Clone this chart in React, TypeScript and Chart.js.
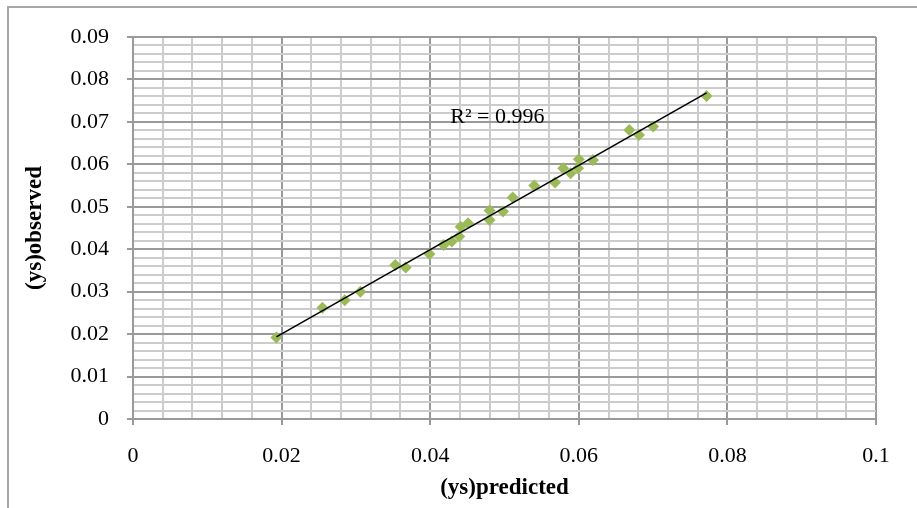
import React, { useEffect, useRef } from 'react';
import { Chart, registerables } from 'chart.js';

Chart.register(...registerables);

// ---- data ----
const predicted = [
  0.0193, 0.0255, 0.0285, 0.0306, 0.0353, 0.0367, 0.0399, 0.0418, 0.0429,
  0.0439, 0.0441, 0.0451, 0.048, 0.048, 0.0498, 0.0511, 0.054, 0.0568,
  0.0579, 0.0589, 0.0599, 0.06, 0.0619, 0.0668, 0.0681, 0.07, 0.0772,
];
const observed = [
  0.0192, 0.0262, 0.028, 0.03, 0.0363, 0.0357, 0.0389, 0.041, 0.0418,
  0.043, 0.0453, 0.0461, 0.0469, 0.0491, 0.0489, 0.0522, 0.055, 0.0557,
  0.0591, 0.0579, 0.0591, 0.0612, 0.061, 0.0681, 0.0669, 0.0689, 0.0761,
];
const xTickLabels = ['0', '0.02', '0.04', '0.06', '0.08', '0.1'];
const yTickLabels = ['0', '0.01', '0.02', '0.03', '0.04', '0.05', '0.06', '0.07', '0.08', '0.09'];
const xTitle = '(ys)predicted';
const yTitle = '(ys)observed';
const rSquaredText = 'R\u00B2 = 0.996';
const rSquaredAnchor = { x: 0.0427, y: 0.0712 };

const X_MAX = 0.1;
const Y_MAX = 0.09;
const X_STEP = 0.004;
const Y_STEP = 0.002;
const MAJOR_EVERY = 5;

const FONT = "'Liberation Serif', 'Times New Roman', serif";
const MAJOR_GRID = '#9a9a9a';
const MINOR_GRID = '#cccccc';
const MARKER = '#9bbb59';

function linearFit(xs: number[], ys: number[]) {
  const n = xs.length;
  const mx = xs.reduce((a, b) => a + b, 0) / n;
  const my = ys.reduce((a, b) => a + b, 0) / n;
  let sxy = 0;
  let sxx = 0;
  for (let i = 0; i < n; i++) {
    sxy += (xs[i] - mx) * (ys[i] - my);
    sxx += (xs[i] - mx) * (xs[i] - mx);
  }
  const slope = sxy / sxx;
  return { slope, intercept: my - slope * mx };
}

const rLabelPlugin = {
  id: 'rLabel',
  afterDatasetsDraw(chart: any) {
    const { ctx, scales } = chart;
    const px = scales.x.getPixelForValue(rSquaredAnchor.x);
    const py = scales.y.getPixelForValue(rSquaredAnchor.y);
    ctx.save();
    ctx.font = `22px ${FONT}`;
    ctx.fillStyle = '#000';
    ctx.textAlign = 'left';
    ctx.textBaseline = 'middle';
    ctx.fillText(rSquaredText, px, py);
    ctx.restore();
  },
};

export default function App() {
  const canvasRef = useRef<HTMLCanvasElement | null>(null);

  useEffect(() => {
    if (!canvasRef.current) return;
    const points = predicted.map((x, i) => ({ x, y: observed[i] }));
    const { slope, intercept } = linearFit(predicted, observed);
    const minX = Math.min(...predicted);
    const maxX = Math.max(...predicted);
    const trend = [
      { x: minX, y: intercept + slope * minX },
      { x: maxX, y: intercept + slope * maxX },
    ];

    const gridColor = (c: any) => (c.index % MAJOR_EVERY === 0 ? MAJOR_GRID : MINOR_GRID);
    const tickColor = (c: any) => (c.index % MAJOR_EVERY === 0 ? MAJOR_GRID : 'rgba(0,0,0,0)');

    const chart = new Chart(canvasRef.current, {
      type: 'scatter',
      data: {
        datasets: [
          {
            type: 'line',
            label: 'trend',
            data: trend,
            borderColor: '#000',
            borderWidth: 1.6,
            pointRadius: 0,
            fill: false,
            order: 0,
          } as any,
          {
            label: 'observed',
            data: points,
            pointStyle: 'rectRot',
            pointRadius: 6,
            backgroundColor: MARKER,
            borderColor: MARKER,
            borderWidth: 0,
            order: 1,
          },
        ],
      },
      plugins: [rLabelPlugin],
      options: {
        animation: false,
        responsive: false,
        devicePixelRatio: 1,
        layout: { padding: { left: 0, right: 41, top: 37, bottom: 0 } },
        plugins: {
          legend: { display: false },
          tooltip: { enabled: false },
        },
        scales: {
          x: {
            type: 'linear',
            min: 0,
            max: X_MAX,
            afterFit: (s: any) => {
              s.height = 89;
            },
            grid: {
              color: gridColor,
              tickColor: tickColor,
              lineWidth: 2,
              tickLength: 6,
              drawTicks: true,
            },
            border: { display: true, color: MAJOR_GRID, width: 2 },
            ticks: {
              stepSize: X_STEP,
              autoSkip: false,
              maxRotation: 0,
              padding: 18,
              color: '#000',
              font: { family: FONT, size: 22 },
              callback: (_v: any, i: number) =>
                i % MAJOR_EVERY === 0 ? xTickLabels[i / MAJOR_EVERY] : '',
            },
            title: {
              display: true,
              text: xTitle,
              color: '#000',
              font: { family: FONT, size: 23, weight: 'bold' },
              padding: { top: 0, bottom: 6 },
            },
          },
          y: {
            type: 'linear',
            min: 0,
            max: Y_MAX,
            afterFit: (s: any) => {
              s.width = 133;
            },
            grid: {
              color: gridColor,
              tickColor: tickColor,
              lineWidth: 2,
              tickLength: 6,
              drawTicks: true,
            },
            border: { display: true, color: MAJOR_GRID, width: 2 },
            ticks: {
              stepSize: Y_STEP,
              autoSkip: false,
              padding: 18,
              color: '#000',
              font: { family: FONT, size: 22 },
              callback: (_v: any, i: number) =>
                i % MAJOR_EVERY === 0 ? yTickLabels[i / MAJOR_EVERY] : '',
            },
            title: {
              display: true,
              text: yTitle,
              color: '#000',
              font: { family: FONT, size: 23, weight: 'bold' },
              padding: { top: 21, bottom: 0 },
            },
          },
        },
      } as any,
    });
    return () => chart.destroy();
  }, []);

  return (
    <div
      style={{
        position: 'absolute',
        left: 0,
        top: 0,
        width: 917,
        height: 508,
        overflow: 'hidden',
        background: '#fff',
      }}
    >
      <div
        style={{
          position: 'absolute',
          left: 7,
          top: 6,
          width: 1000,
          height: 1000,
          borderLeft: '2px solid #a6a6a6',
          borderTop: '2px solid #a6a6a6',
        }}
      />
      <canvas
        ref={canvasRef}
        width={917}
        height={508}
        style={{ position: 'absolute', left: 0, top: 0, width: 917, height: 508 }}
      />
    </div>
  );
}
